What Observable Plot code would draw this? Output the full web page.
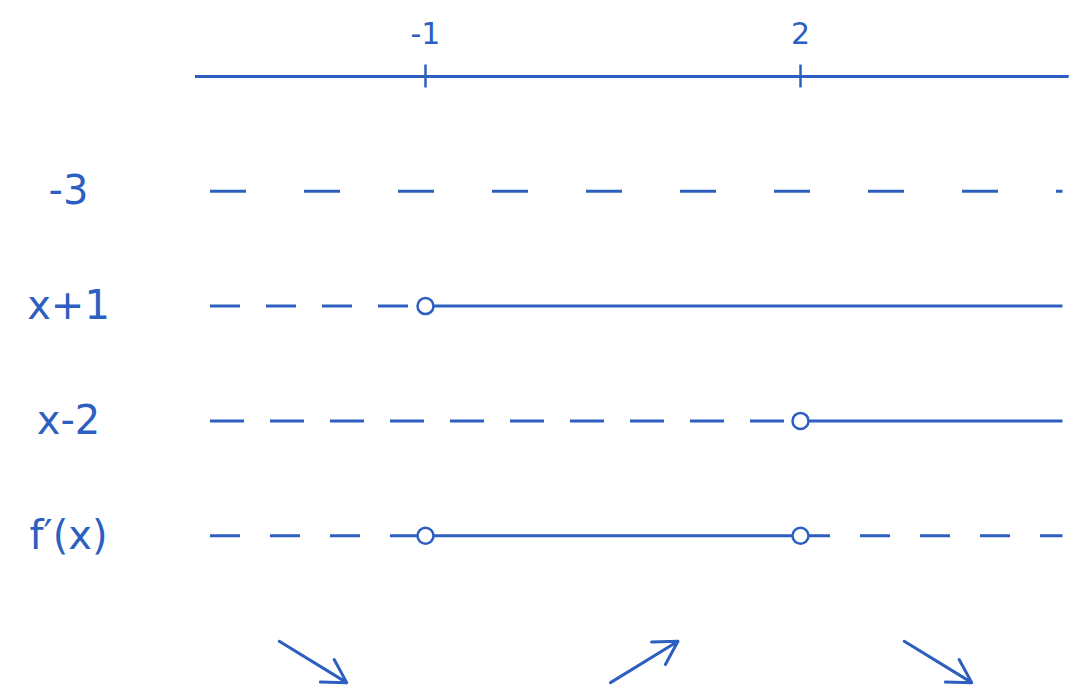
<!DOCTYPE html>
<html>
<head>
<meta charset="utf-8">
<script src="https://cdn.jsdelivr.net/npm/d3@7"></script>
<script src="https://cdn.jsdelivr.net/npm/@observablehq/plot@0.6"></script>
<style>
  html, body { margin: 0; padding: 0; background: #fff; }
  #chart svg { display: block; }
</style>
</head>
<body>
<div id="chart"></div>
<script>
// ---- data ----
const criticalPoints = [-1, 2];
const criticalLabels = ["-1", "2"];
const lineExtent = [-2.84, 4.15];      // number line span (x units)
const rowExtent = [-2.72, 4.1];        // sign rows span (x units)
const rowLabels = ["-3", "x+1", "x-2", "f\u2032(x)"];
const rowSigns = [
  ["-", "-", "-"],
  ["-", "+", "+"],
  ["-", "-", "+"],
  ["-", "+", "-"]
];
const rowZeros = [[], [-1], [2], [-1, 2]];
const arrowCenters = [-1.9, 0.75, 3.1];
const arrowTrends = [-1, 1, -1];   // -1 decreasing, +1 increasing

// ---- styles ----
const color = "#2c5fbf";
const rowDash = {1: "36,58", 2: "30,26", 3: "34,26", 4: "30,30"};

// ---- build tables ----
const bounds = [rowExtent[0], ...criticalPoints, rowExtent[1]];
const segments = [];
rowSigns.forEach((signs, i) => {
  let start = 0;
  for (let j = 1; j <= signs.length; j++) {
    if (j === signs.length || signs[j] !== signs[start]) {
      segments.push({row: i + 1, x1: bounds[start], x2: bounds[j], sign: signs[start]});
      start = j;
    }
  }
});
const zeros = rowZeros.flatMap((zs, i) => zs.map(x => ({row: i + 1, x})));
const labels = rowLabels.map((label, i) => ({row: i + 1, label}));
const arrows = arrowCenters.map((x, i) => ({x, trend: arrowTrends[i]}));
const arrowRow = 5.1;

const dashedMarks = [1, 2, 3, 4].map(r =>
  Plot.ruleY(segments.filter(d => d.sign === "-" && d.row === r), {y: "row", x1: "x1", x2: "x2",
    stroke: color, strokeWidth: 3, strokeDasharray: rowDash[r]})
);

const chart = Plot.plot({
  width: 1069,
  height: 697,
  marginLeft: 0,
  marginRight: 0,
  marginTop: 76,
  marginBottom: 47,
  x: {domain: [-4.4, 4.152], axis: null},
  y: {domain: [0, 5], reverse: true, axis: null},
  style: {background: "#fff"},
  marks: [
    // number line
    Plot.ruleY([0], {x1: lineExtent[0], x2: lineExtent[1], stroke: color, strokeWidth: 3}),
    Plot.ruleX(criticalPoints, {x: d => d, y1: -0.1, y2: 0.1, stroke: color, strokeWidth: 2.5}),
    Plot.text(criticalPoints, {x: d => d, y: 0, dy: -42, text: (d, i) => criticalLabels[i],
      fill: color, fontSize: 30, fontFamily: "DejaVu Sans"}),
    // negative (dashed) segments
    ...dashedMarks,
    // positive (solid) segments
    Plot.ruleY(segments.filter(d => d.sign === "+"), {y: "row", x1: "x1", x2: "x2",
      stroke: color, strokeWidth: 3}),
    // zeros
    Plot.dot(zeros, {x: "x", y: "row", r: 8, fill: "white", stroke: color, strokeWidth: 2.5}),
    // row labels
    Plot.text(labels, {frameAnchor: "left", dx: 68, y: "row", text: "label",
      fill: color, fontSize: 40, fontFamily: "DejaVu Sans", textAnchor: "middle"}),
    // monotonicity arrows
    Plot.arrow(arrows, {
      x1: d => d.x - 0.27, x2: d => d.x + 0.27,
      y1: d => arrowRow + d.trend * 0.18, y2: d => arrowRow - d.trend * 0.18,
      stroke: color, strokeWidth: 3, headLength: 16
    })
  ]
});
document.getElementById("chart").append(chart);
</script>
</body>
</html>
